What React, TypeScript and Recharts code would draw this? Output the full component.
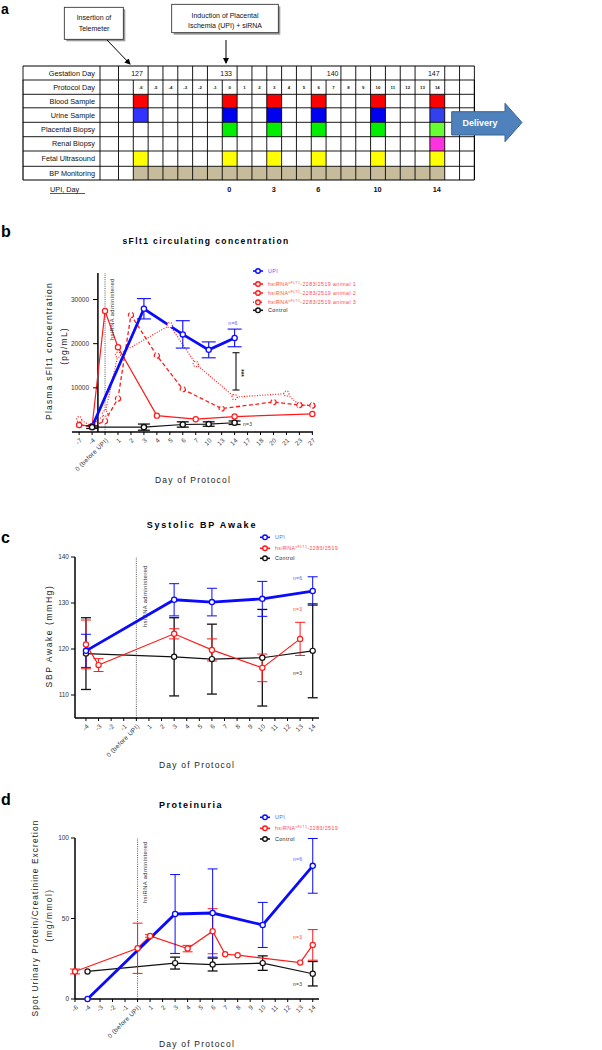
import React from 'react';
import { LineChart, Line, XAxis, YAxis, ErrorBar, ReferenceLine } from 'recharts';

const FONT = '"Liberation Sans", Arial, Helvetica, sans-serif';
const BLUE = '#0a0aff';
const BLUE_T = '#5a5aff';
const RED = '#ff1a1a';
const RED_T = '#ff4a4a';
const BLACK = '#111';

// ---------- Panel a data ----------
const rowLabels = ['Gestation Day', 'Protocol Day', 'Blood Sample', 'Urine Sample', 'Placental Biopsy', 'Renal Biopsy', 'Fetal Ultrasound', 'BP Monitoring'];
const protocolDays = [-6, -5, -4, -3, -2, -1, 0, 1, 2, 3, 4, 5, 6, 7, 8, 9, 10, 11, 12, 13, 14];
const bloodDays = [-6, 0, 3, 6, 10, 14];
const urineDays = [-6, 0, 3, 6, 10, 14];
const placentalDays = [0, 3, 6, 10, 14];
const renalDays = [14];
const ultrasoundDays = [-6, 0, 3, 6, 10, 14];
const gestationMarks = [{ day: -6, label: '127' }, { day: 0, label: '133' }, { day: 7, label: '140' }, { day: 14, label: '147' }];
const upiDays = [{ day: 0, label: '0' }, { day: 3, label: '3' }, { day: 6, label: '6' }, { day: 10, label: '10' }, { day: 14, label: '14' }];

// ---------- Panel b data ----------
const bLabels = ['-7', '-4', '0 (before UPI)', '1', '2', '3', '4', '5', '6', '7', '10', '13', '14', '17', '18', '20', '21', '23', '27'];
const bTicks = bLabels.map((_, i) => i);
const bUPI = [{ x: 1, y: 1200, e: 0 }, { x: 5, y: 27900, e: 2300 }, { x: 8, y: 22100, e: 3100 }, { x: 10, y: 18600, e: 1800 }, { x: 12, y: 21300, e: 2000 }];
const bControl = [{ x: 1, y: 1100, e: 300 }, { x: 5, y: 1100, e: 700 }, { x: 8, y: 1700, e: 600 }, { x: 10, y: 1800, e: 500 }, { x: 12, y: 2100, e: 400 }];
const bAnimal1 = [{ x: 0, y: 1600 }, { x: 1, y: 1300 }, { x: 2, y: 27400 }, { x: 3, y: 19200 }, { x: 6, y: 3700 }, { x: 9, y: 2900 }, { x: 12, y: 3500 }, { x: 18, y: 4100 }];
const bAnimal2 = [{ x: 0, y: 1600 }, { x: 1, y: 1300 }, { x: 2, y: 2500 }, { x: 3, y: 7600 }, { x: 4, y: 26500 }, { x: 6, y: 17300 }, { x: 8, y: 9700 }, { x: 11, y: 5300 }, { x: 15, y: 6800 }, { x: 17, y: 6100 }, { x: 18, y: 6000 }];
const bAnimal3 = [{ x: 0, y: 2900 }, { x: 1, y: 1300 }, { x: 2, y: 4200 }, { x: 3, y: 17500 }, { x: 7, y: 24200 }, { x: 9, y: 15400 }, { x: 12, y: 7900 }, { x: 16, y: 8700 }, { x: 17, y: 6100 }, { x: 18, y: 6000 }];
const bYTicks = [10000, 20000, 30000];

// ---------- Panel c data ----------
const cTicks = [-4, -3, -2, -1, 0, 1, 2, 3, 4, 5, 6, 7, 8, 9, 10, 11, 12, 13, 14];
const cUPI = [{ x: -4, y: 119.6, e: 3.6 }, { x: 3, y: 130.7, e: 3.5 }, { x: 6, y: 130.2, e: 3.0 }, { x: 10, y: 130.9, e: 3.8 }, { x: 14, y: 132.6, e: 3.1 }];
const cSiRNA = [{ x: -4, y: 121.0, e: 5.3 }, { x: -3, y: 116.5, e: 1.4 }, { x: 3, y: 123.3, e: 1.1 }, { x: 6, y: 119.8, e: 2.4 }, { x: 10, y: 115.9, e: 3.0 }, { x: 13, y: 122.2, e: 3.6 }];
const cControl = [{ x: -4, y: 119.0, e: 7.8 }, { x: 3, y: 118.3, e: 8.5 }, { x: 6, y: 117.8, e: 7.6 }, { x: 10, y: 118.1, e: 10.5 }, { x: 14, y: 119.6, e: 10.2 }];
const cYTicks = [110, 120, 130, 140];

// ---------- Panel d data ----------
const dLabels = ['-6', '-4', '-3', '-2', '-1', '0 (before UPI)', '1', '2', '3', '4', '5', '6', '7', '8', '9', '10', '11', '12', '13', '14'];
const dTicks = dLabels.map((_, i) => i);
const dUPI = [{ x: 1, y: 0, e: 0 }, { x: 8, y: 52.8, e: 24.5 }, { x: 11, y: 53.4, e: 27.4 }, { x: 15, y: 46.0, e: 14 }, { x: 19, y: 82.7, e: 17 }];
const dSiRNA = [{ x: 0, y: 17.1, e: 1.5 }, { x: 5, y: 31.5, e: 15.6 }, { x: 6, y: 39.2, e: 0.8 }, { x: 9, y: 31.3, e: 2 }, { x: 11, y: 42.1, e: 14 }, { x: 12, y: 27.8, e: 0 }, { x: 13, y: 27.2, e: 0 }, { x: 18, y: 22.6, e: 0 }, { x: 19, y: 33.6, e: 9.5 }];
const dControl = [{ x: 1, y: 17.1, e: 0 }, { x: 8, y: 22.3, e: 3.7 }, { x: 11, y: 21.4, e: 4 }, { x: 15, y: 22.3, e: 4.5 }, { x: 19, y: 15.7, e: 7.6 }];
const dYTicks = [0, 50, 100];

// ---------- helpers ----------
const makeXTick = (fmt: (v: number) => string) => (props: any) => {
  const { x, y, payload } = props;
  return (
    <g transform={`translate(${x + 2},${y + 2})`}>
      <text transform="rotate(-45)" textAnchor="end" dy="0.35em" fontSize={6.3} letterSpacing={0.3} fill="#333" fontFamily={FONT}>
        {fmt(payload.value)}
      </text>
    </g>
  );
};

const BYTick = (props: any) => {
  const { x, y, payload } = props;
  const ax = x + 26;
  return (
    <g>
      <line x1={ax - 5} x2={ax} y1={y} y2={y} stroke="#000" strokeWidth={1} />
      <text x={ax - 9} y={y} dy="0.35em" textAnchor="end" fontSize={6.5} fill="#333" fontFamily={FONT}>{payload.value}</text>
    </g>
  );
};

const dot = (c: string, sw = 1.2) => ({ r: 2.6, fill: '#fff', stroke: c, strokeWidth: sw });

const axisLine = { stroke: '#000', strokeWidth: 1.5 };
const tickLine = { stroke: '#000', strokeWidth: 1 };
const yTickStyle = { fontSize: 6.5, fill: '#333', fontFamily: FONT };

function cellX(day: number) {
  return 133.3 + (day + 6) * 14.83;
}
const CW = 14.83;
const ROWS = [66, 80, 94.3, 107.8, 122.3, 136.7, 151, 166.3, 180];

function PanelA() {
  const colBounds: number[] = [23, 100, 118.5];
  for (let k = -6; k <= 17; k++) colBounds.push(cellX(k));
  const merged = new Set([cellX(-6), cellX(0), cellX(7), cellX(14)].map((v) => v.toFixed(2)));
  const fills: { row: number; day: number; color: string }[] = [];
  bloodDays.forEach((d) => fills.push({ row: 2, day: d, color: '#ff0000' }));
  urineDays.forEach((d) => fills.push({ row: 3, day: d, color: d === -6 ? '#3333ff' : d === 14 ? '#3340ee' : '#0000f0' }));
  placentalDays.forEach((d) => fills.push({ row: 4, day: d, color: d === 14 ? '#66ff33' : '#00ee00' }));
  renalDays.forEach((d) => fills.push({ row: 5, day: d, color: '#ff33dd' }));
  ultrasoundDays.forEach((d) => fills.push({ row: 6, day: d, color: '#ffff00' }));
  protocolDays.forEach((d) => fills.push({ row: 7, day: d, color: '#c6bb9a' }));
  return (
    <g fontFamily={FONT}>
      <text x={1} y={14} fontSize={14} fontWeight="bold">a</text>
      {/* callout boxes */}
      <rect x={66.3} y={9.3} width={59} height={32} fill="#9a9a9a" />
      <rect x={64.3} y={7.3} width={59} height={32} fill="#fff" stroke="#222" strokeWidth={0.8} />
      <text x={94} y={20} fontSize={7} textAnchor="middle" fill="#111">Insertion of</text>
      <text x={94} y={30.5} fontSize={7} textAnchor="middle" fill="#111">Telemeter</text>
      <rect x={173.7} y={6.3} width={106.6} height={28.4} fill="#9a9a9a" />
      <rect x={171.7} y={4.3} width={106.6} height={28.4} fill="#fff" stroke="#222" strokeWidth={0.8} />
      <text x={225} y={17.5} fontSize={7} textAnchor="middle" fill="#111">Induction of Placental</text>
      <text x={225} y={27.5} fontSize={7} textAnchor="middle" fill="#111">Ischemia (UPI) + siRNA</text>
      <defs>
        <marker id="ah" markerWidth="6" markerHeight="6" refX="5" refY="3" orient="auto" markerUnits="userSpaceOnUse">
          <path d="M0,0 L6,3 L0,6 Z" fill="#000" />
        </marker>
      </defs>
      <line x1={107} y1={40} x2={130} y2={64} stroke="#000" strokeWidth={1} markerEnd="url(#ah)" />
      <line x1={226} y1={40} x2={226} y2={63} stroke="#000" strokeWidth={1} markerEnd="url(#ah)" />
      {/* colored cells */}
      {fills.map((f, i) => (
        <rect key={i} x={cellX(f.day)} y={ROWS[f.row]} width={CW} height={ROWS[f.row + 1] - ROWS[f.row]} fill={f.color} />
      ))}
      {/* horizontal grid */}
      {ROWS.map((y, i) => (
        <line key={'h' + i} x1={23} x2={474.4} y1={y} y2={y} stroke="#000" strokeWidth={i === 0 || i === ROWS.length - 1 ? 1.2 : 0.9} />
      ))}
      {/* vertical grid */}
      {colBounds.map((x, i) => (
        <g key={'v' + i}>
          {!merged.has(x.toFixed(2)) && <line x1={x} x2={x} y1={ROWS[0]} y2={ROWS[1]} stroke="#000" strokeWidth={0.9} />}
          <line x1={x} x2={x} y1={ROWS[1]} y2={ROWS[8]} stroke="#000" strokeWidth={i === 0 || i === colBounds.length - 1 ? 1.2 : 0.9} />
        </g>
      ))}
      {rowLabels.map((t, i) => (
        <text key={t} x={95} y={(ROWS[i] + ROWS[i + 1]) / 2 + 2.6} fontSize={7.3} textAnchor="end" fill="#111">{t}</text>
      ))}
      {gestationMarks.map((g) => (
        <text key={g.label} x={cellX(g.day) + (g.day === -6 ? 3.7 : g.day === 7 ? 6.5 : 3.9)} y={75.5} fontSize={7} textAnchor="middle" fill="#111">{g.label}</text>
      ))}
      {protocolDays.map((d) => (
        <text key={d} x={cellX(d) + CW / 2} y={88.5} fontSize={4.3} fontWeight="bold" textAnchor="middle" fill="#111">{d}</text>
      ))}
      {/* delivery arrow */}
      <path d="M451.7,111.7 L505,111.7 L505,103.3 L522,122.5 L505,141.7 L505,135 L451.7,135 Z" fill="#4f81bd" stroke="#3a6493" strokeWidth={1} />
      <text x={480} y={126} fontSize={9} fontWeight="bold" fill="#fff" textAnchor="middle">Delivery</text>
      {/* UPI day */}
      <text x={50} y={192} fontSize={7.3} fill="#111">UPI, Day</text>
      <line x1={50} x2={85} y1={193.5} y2={193.5} stroke="#111" strokeWidth={0.7} />
      {upiDays.map((u) => (
        <text key={u.label} x={cellX(u.day) + CW / 2 - 0.5} y={192} fontSize={7.3} fontWeight="bold" textAnchor="middle" fill="#111">{u.label}</text>
      ))}
    </g>
  );
}

function LegendItem({ x, y, color, dash, label, sup, rest, fill }: any) {
  return (
    <g>
      <line x1={x - 5} x2={x + 5} y1={y} y2={y} stroke={color} strokeWidth={1.6} strokeDasharray={dash} />
      <circle cx={x} cy={y} r={2.3} fill={fill || '#fff'} stroke={color} strokeWidth={1.4} />
      <text x={x + 10} y={y} dy="0.35em" fontSize={5.3} letterSpacing={0.4} fill={color === BLUE ? BLUE_T : color === RED ? RED_T : '#222'} fontFamily={FONT}>
        {label}
        {sup && <tspan fontSize={3.6} dy={-2}>{sup}</tspan>}
        {rest && <tspan dy={sup ? 2 : 0}>{rest}</tspan>}
      </text>
    </g>
  );
}

function Overlay() {
  const small = { fontSize: 5, fontFamily: FONT, letterSpacing: 0.3 } as any;
  return (
    <svg width={602} height={1050} style={{ position: 'absolute', left: 0, top: 0, pointerEvents: 'none' }} fontFamily={FONT}>
      <PanelA />
      {/* Panel b */}
      <text x={1} y={237} fontSize={16} fontWeight="bold">b</text>
      <text x={206} y={244} fontSize={8.5} fontWeight="bold" letterSpacing={1.4} textAnchor="middle">sFlt1 circulating concentration</text>
      <text transform="translate(52,351) rotate(-90)" fontSize={8.5} letterSpacing={1.2} textAnchor="middle" fill="#222">Plasma sFlt1 concerntration</text>
      <text transform="translate(67,346) rotate(-90)" fontSize={8.5} letterSpacing={1.2} textAnchor="middle" fill="#222">(pg/mL)</text>
      <text x={193} y={483} fontSize={8.5} letterSpacing={1.2} textAnchor="middle" fill="#222">Day of Protocol</text>
      <text transform="translate(113.5,340) rotate(-90)" fontSize={5.8} letterSpacing={0.4} fill="#333">hsiRNA administered</text>
      <LegendItem x={258} y={271} color={BLUE} label="UPI" />
      <LegendItem x={258} y={284} color={RED} label="hsiRNA" sup="sFLT1" rest="-2283/2519 animal 1" />
      <LegendItem x={258} y={293} color={RED} dash="2.5 1.5" label="hsiRNA" sup="sFLT1" rest="-2283/2519 animal 2" />
      <LegendItem x={258} y={302.3} color={RED} dash="1 1" label="hsiRNA" sup="sFLT1" rest="-2283/2519 animal 3" />
      <LegendItem x={258} y={310.3} color={BLACK} label="Control" />
      <text x={233} y={325} {...small} fill={BLUE_T} textAnchor="middle">n=6</text>
      <text x={243} y={425.5} {...small} fill="#333">n=3</text>
      <line x1={236} x2={236} y1={352.7} y2={390} stroke="#222" strokeWidth={1.2} />
      <line x1={232.5} x2={239.5} y1={352.7} y2={352.7} stroke="#222" strokeWidth={1.2} />
      <line x1={232.5} x2={239.5} y1={390} y2={390} stroke="#222" strokeWidth={1.2} />
      <text transform="translate(239,373) rotate(90)" fontSize={6.5} fontWeight="bold" textAnchor="middle" fill="#222">***</text>

      {/* Panel c */}
      <text x={1} y={543} fontSize={16} fontWeight="bold">c</text>
      <text x={202} y={528} fontSize={9} fontWeight="bold" letterSpacing={1.8} textAnchor="middle">Systolic BP Awake</text>
      <text transform="translate(52,636) rotate(-90)" fontSize={8.5} letterSpacing={1.6} textAnchor="middle" fill="#222">SBP Awake (mmHg)</text>
      <text x={197} y={768} fontSize={8.5} letterSpacing={1.2} textAnchor="middle" fill="#222">Day of Protocol</text>
      <text transform="translate(146.5,627) rotate(-90)" fontSize={5.8} letterSpacing={0.4} fill="#333">hsiRNA administered</text>
      <LegendItem x={265} y={537.3} color={BLUE} label="UPI" />
      <LegendItem x={265} y={548.3} color={RED} label="hsiRNA" sup="sFLT1" rest="-2283/2519" />
      <LegendItem x={265} y={558.3} color={BLACK} label="Control" />
      <text x={293} y={580} {...small} fill={BLUE_T}>n=6</text>
      <text x={293} y={611} {...small} fill={RED_T}>n=3</text>
      <text x={293} y={675} {...small} fill="#333">n=3</text>

      {/* Panel d */}
      <text x={1} y={805} fontSize={16} fontWeight="bold">d</text>
      <text x={191} y={808} fontSize={9} fontWeight="bold" letterSpacing={1.5} textAnchor="middle">Proteinuria</text>
      <text transform="translate(38,918) rotate(-90)" fontSize={8.3} letterSpacing={1.1} textAnchor="middle" fill="#222">Spot Urinary Protein/Creatinine Excretion</text>
      <text transform="translate(52,915) rotate(-90)" fontSize={8.3} letterSpacing={1.5} textAnchor="middle" fill="#222">(mg/mmol)</text>
      <text x={197} y={1047} fontSize={8.5} letterSpacing={1.2} textAnchor="middle" fill="#222">Day of Protocol</text>
      <text transform="translate(146.5,903) rotate(-90)" fontSize={5.8} letterSpacing={0.4} fill="#333">hsiRNA administered</text>
      <LegendItem x={265} y={817.3} color={BLUE} label="UPI" />
      <LegendItem x={265} y={828.3} color={RED} label="hsiRNA" sup="sFLT1" rest="-2283/2519" />
      <LegendItem x={265} y={839} color={BLACK} label="Control" />
      <text x={293} y={861} {...small} fill={BLUE_T}>n=6</text>
      <text x={293} y={939} {...small} fill={RED_T}>n=3</text>
      <text x={293} y={986} {...small} fill="#333">n=3</text>
    </svg>
  );
}

export default function App() {
  const cFmt = (v: number) => (v === 0 ? '0 (before UPI)' : String(v));
  return (
    <div style={{ position: 'absolute', left: 0, top: 0, width: 602, height: 1050, background: '#fff', overflow: 'hidden', fontFamily: FONT }}>
      {/* Panel b chart */}
      <div style={{ position: 'absolute', left: 0, top: 250 }}>
        <LineChart width={602} height={250} margin={{ top: 23, right: 289, bottom: 28, left: 71 }}>
          <XAxis type="number" dataKey="x" domain={[-0.55, 18.05]} ticks={bTicks} interval={0} height={40}
            tick={makeXTick((v) => bLabels[v])} tickSize={3} tickLine={tickLine} axisLine={axisLine} />
          <YAxis type="number" dataKey="y" domain={[0, 36000]} ticks={bYTicks} width={1} axisLine={false} tickLine={false}
            tickSize={0} tickMargin={0} tick={BYTick} interval={0} />
          <ReferenceLine x={1.45} stroke="#000" strokeWidth={1.5} ifOverflow="visible" />
          <ReferenceLine x={2} stroke="#444" strokeWidth={0.9} strokeDasharray="1 1.2" />
          <Line data={bAnimal3} dataKey="y" stroke={RED} strokeWidth={1.2} strokeDasharray="1 1.6" dot={dot(RED)} isAnimationActive={false} />
          <Line data={bAnimal2} dataKey="y" stroke={RED} strokeWidth={1.3} strokeDasharray="4 2.5" dot={dot(RED)} isAnimationActive={false} />
          <Line data={bAnimal1} dataKey="y" stroke={RED} strokeWidth={1.2} dot={dot(RED)} isAnimationActive={false} />
          <Line data={bUPI} dataKey="y" stroke={BLUE} strokeWidth={2.8} dot={dot(BLUE, 1.3)} isAnimationActive={false}>
            <ErrorBar dataKey="e" width={7} stroke={BLUE} strokeWidth={1.1} direction="y" />
          </Line>
          <Line data={bControl} dataKey="y" stroke={BLACK} strokeWidth={1.2} dot={dot(BLACK, 1.4)} isAnimationActive={false}>
            <ErrorBar dataKey="e" width={6} stroke={BLACK} strokeWidth={1.3} direction="y" />
          </Line>
        </LineChart>
      </div>

      {/* Panel c chart */}
      <div style={{ position: 'absolute', left: 0, top: 540 }}>
        <LineChart width={602} height={260} margin={{ top: 17, right: 283, bottom: 42, left: 50 }}>
          <XAxis type="number" dataKey="x" domain={[-4.87, 14.5]} ticks={cTicks} interval={0} height={40}
            tick={makeXTick(cFmt)} tickSize={3} tickLine={tickLine} axisLine={axisLine} />
          <YAxis type="number" dataKey="y" domain={[105, 140]} ticks={cYTicks} width={25} interval={0}
            tick={yTickStyle} tickSize={4} tickMargin={2} tickLine={tickLine} axisLine={axisLine} />
          <ReferenceLine x={0} stroke="#444" strokeWidth={0.9} strokeDasharray="1 1.2" />
          <Line data={cControl} dataKey="y" stroke={BLACK} strokeWidth={1.2} dot={dot(BLACK)} isAnimationActive={false}>
            <ErrorBar dataKey="e" width={5} stroke={BLACK} strokeWidth={1.3} direction="y" />
          </Line>
          <Line data={cSiRNA} dataKey="y" stroke={RED} strokeWidth={1.2} dot={dot(RED)} isAnimationActive={false}>
            <ErrorBar dataKey="e" width={5} stroke={RED} strokeWidth={1} direction="y" />
          </Line>
          <Line data={cUPI} dataKey="y" stroke={BLUE} strokeWidth={2.8} dot={dot(BLUE, 1.3)} isAnimationActive={false}>
            <ErrorBar dataKey="e" width={5} stroke={BLUE} strokeWidth={1} direction="y" />
          </Line>
        </LineChart>
      </div>

      {/* Panel d chart */}
      <div style={{ position: 'absolute', left: 0, top: 820 }}>
        <LineChart width={602} height={230} margin={{ top: 18, right: 283, bottom: 11, left: 50 }}>
          <XAxis type="number" dataKey="x" domain={[0, 19.5]} ticks={dTicks} interval={0} height={40}
            tick={makeXTick((v) => dLabels[v])} tickSize={3} tickLine={tickLine} axisLine={axisLine} />
          <YAxis type="number" dataKey="y" domain={[0, 100]} ticks={dYTicks} width={25} interval={0}
            tick={yTickStyle} tickSize={4} tickMargin={2} tickLine={tickLine} axisLine={axisLine} />
          <ReferenceLine x={5} stroke="#444" strokeWidth={0.9} strokeDasharray="1 1.2" />
          <Line data={dControl} dataKey="y" stroke={BLACK} strokeWidth={1.2} dot={dot(BLACK)} isAnimationActive={false}>
            <ErrorBar dataKey="e" width={5} stroke={BLACK} strokeWidth={1.3} direction="y" />
          </Line>
          <Line data={dSiRNA} dataKey="y" stroke={RED} strokeWidth={1.2} dot={dot(RED)} isAnimationActive={false}>
            <ErrorBar dataKey="e" width={5} stroke={RED} strokeWidth={1} direction="y" />
          </Line>
          <Line data={dUPI} dataKey="y" stroke={BLUE} strokeWidth={2.8} dot={dot(BLUE, 1.3)} isAnimationActive={false}>
            <ErrorBar dataKey="e" width={5} stroke={BLUE} strokeWidth={1} direction="y" />
          </Line>
        </LineChart>
      </div>

      <Overlay />
    </div>
  );
}
